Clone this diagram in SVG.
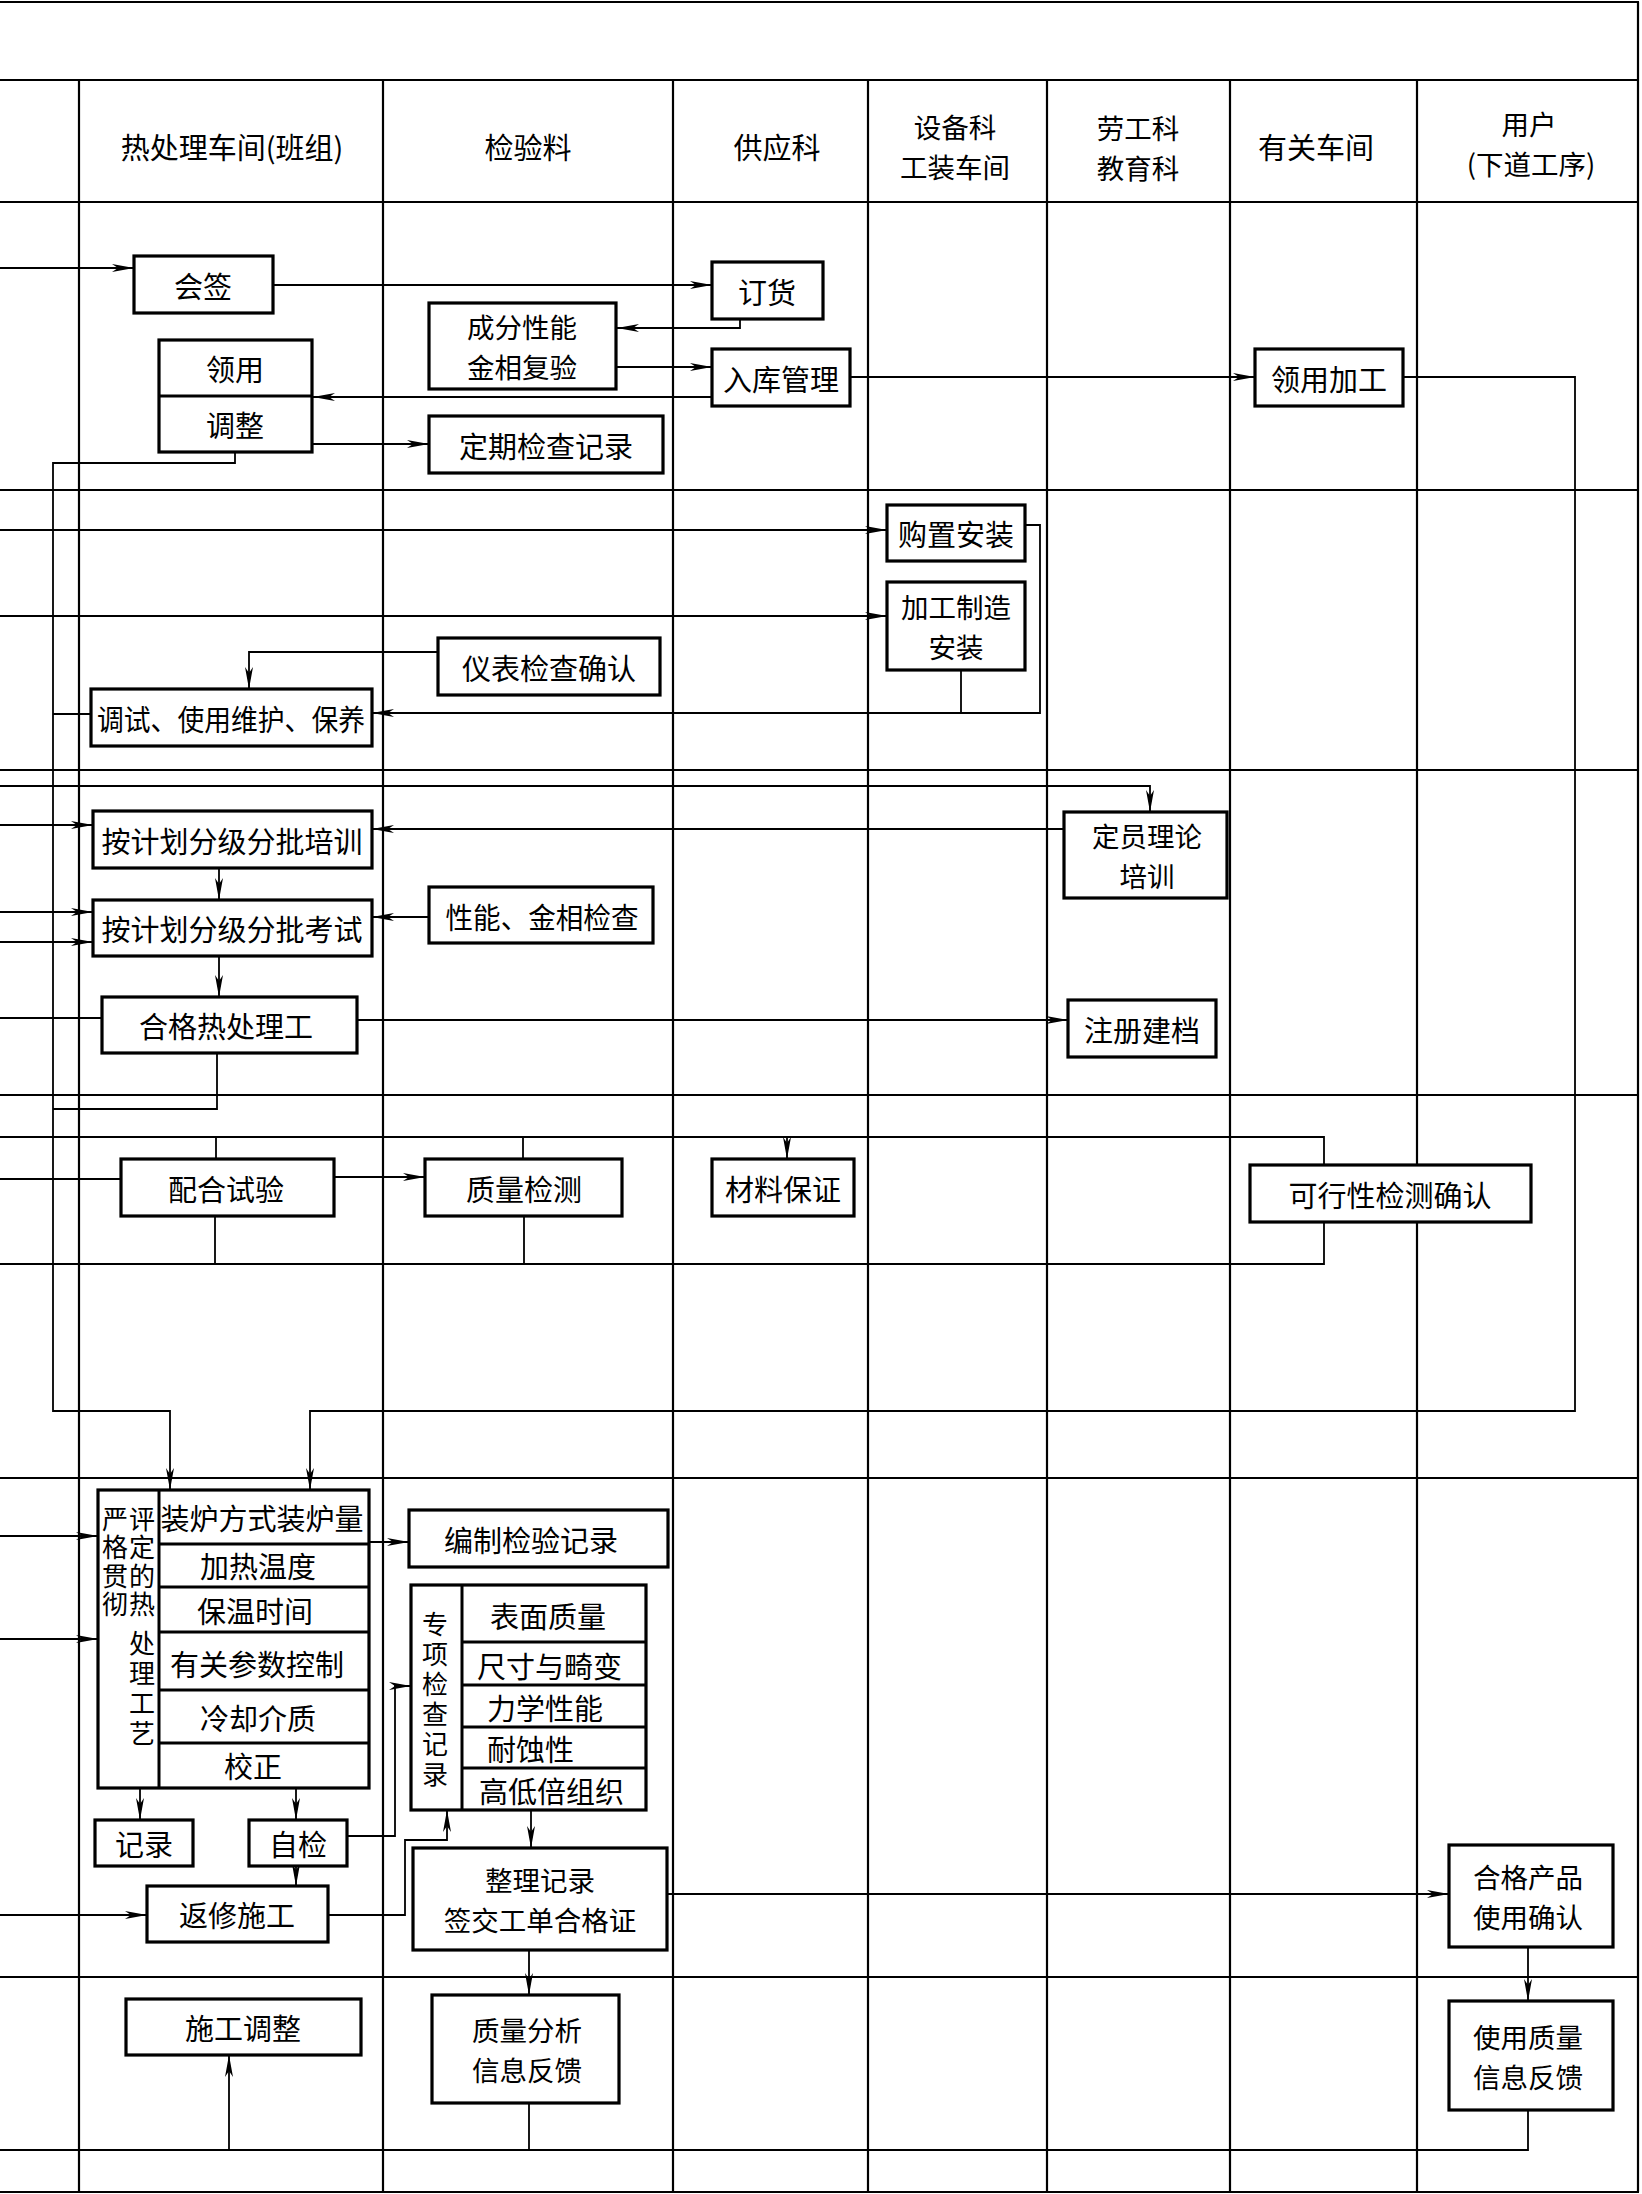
<svg xmlns="http://www.w3.org/2000/svg" width="1642" height="2194" viewBox="0 0 1642 2194">
<defs>
<style>
.grid{stroke:#000;stroke-width:2.2;fill:none}
.box{fill:#fff;stroke:#000;stroke-width:3.2}
.div{stroke:#000;stroke-width:3;fill:none}
.cn{fill:none;stroke:#000;stroke-width:1.8}
.ar{marker-end:url(#ah)}
text{font-family:"Noto Sans CJK SC","Noto Sans",sans-serif;font-size:29px;fill:#000;text-anchor:middle;dominant-baseline:central}
.st{text-anchor:start}
.two{font-size:27.5px}
.vt{font-size:26px;writing-mode:vertical-rl;text-anchor:start;dominant-baseline:auto}
</style>
<marker id="ah" markerUnits="userSpaceOnUse" markerWidth="24" markerHeight="10" refX="22" refY="4" orient="auto" overflow="visible">
<path d="M0,0 L22,4 L0,8 L6,4 z" fill="#000"/>
</marker>
</defs>
<rect x="0" y="0" width="1642" height="2194" fill="#fff"/>

<g id="grid">
<line class="grid" x1="0" y1="2" x2="1639" y2="2"/>
<line class="grid" x1="0" y1="80" x2="1639" y2="80"/>
<line class="grid" x1="0" y1="202" x2="1639" y2="202"/>
<line class="grid" x1="0" y1="490" x2="1639" y2="490"/>
<line class="grid" x1="0" y1="770" x2="1639" y2="770"/>
<line class="grid" x1="0" y1="1095" x2="1639" y2="1095"/>
<line class="grid" x1="0" y1="1478" x2="1639" y2="1478"/>
<line class="grid" x1="0" y1="1977" x2="1639" y2="1977"/>
<line class="grid" x1="0" y1="2192" x2="1639" y2="2192"/>
<line class="grid" x1="79" y1="80" x2="79" y2="2192"/>
<line class="grid" x1="383" y1="80" x2="383" y2="2192"/>
<line class="grid" x1="673" y1="80" x2="673" y2="2192"/>
<line class="grid" x1="868" y1="80" x2="868" y2="2192"/>
<line class="grid" x1="1047" y1="80" x2="1047" y2="2192"/>
<line class="grid" x1="1230" y1="80" x2="1230" y2="2192"/>
<line class="grid" x1="1417" y1="80" x2="1417" y2="2192"/>
<line class="grid" x1="1638" y1="2" x2="1638" y2="2192"/>
</g>

<g id="headers">
<text x="232" y="146">热处理车间(班组)</text>
<text x="528" y="146">检验料</text>
<text x="777" y="146">供应科</text>
<text class="two"><tspan x="955" y="126">设备科</tspan><tspan x="955" y="166">工装车间</tspan></text>
<text class="two"><tspan x="1138" y="127">劳工科</tspan><tspan x="1138" y="167">教育科</tspan></text>
<text x="1316" y="146">有关车间</text>
<text class="two"><tspan x="1529" y="123">用户</tspan><tspan x="1531" y="163">(下道工序)</tspan></text>
</g>

<g id="connectors">
<path class="cn ar" d="M0,268 H134"/>
<path class="cn ar" d="M273,285 H712"/>
<path class="cn ar" d="M740,319 V328 H617"/>
<path class="cn ar" d="M616,367 H712"/>
<path class="cn ar" d="M712,397 H313"/>
<path class="cn ar" d="M850,377 H1255"/>
<path class="cn ar" d="M312,444 H429"/>
<path class="cn ar" d="M235,452 V463 H53 V1411 H170 V1490"/>
<path class="cn ar" d="M1403,377 H1575 V1411 H310 V1490"/>
<path class="cn ar" d="M0,530 H887"/>
<path class="cn ar" d="M0,616 H887"/>
<path class="cn ar" d="M1025,525 H1040 V713 H372"/>
<path class="cn" d="M961,670 V713"/>
<path class="cn ar" d="M438,652 H249 V689"/>
<path class="cn" d="M91,714 H53"/>
<path class="cn ar" d="M0,786 H1150 V812"/>
<path class="cn ar" d="M0,825 H93"/>
<path class="cn ar" d="M1064,829 H372"/>
<path class="cn ar" d="M219,868 V900"/>
<path class="cn ar" d="M0,912 H93"/>
<path class="cn ar" d="M0,942 H93"/>
<path class="cn ar" d="M429,917 H372"/>
<path class="cn ar" d="M219,956 V997"/>
<path class="cn" d="M0,1018 H102"/>
<path class="cn ar" d="M357,1020 H1068"/>
<path class="cn" d="M217,1053 V1109 H53"/>
<path class="cn" d="M0,1137 H1324 V1165"/>
<path class="cn" d="M216,1137 V1159 M523,1137 V1159"/>
<path class="cn ar" d="M787,1137 V1159"/>
<path class="cn" d="M0,1264 H1324 V1222 M215,1216 V1264 M524,1216 V1264"/>
<path class="cn" d="M0,1179 H121"/>
<path class="cn ar" d="M334,1177 H425"/>
<path class="cn ar" d="M0,1536 H98"/>
<path class="cn ar" d="M0,1639 H98"/>
<path class="cn ar" d="M369,1542 H409"/>
<path class="cn ar" d="M140,1788 V1820"/>
<path class="cn ar" d="M296,1788 V1820"/>
<path class="cn ar" d="M347,1836 H395 V1686 H411"/>
<path class="cn ar" d="M296,1866 V1886"/>
<path class="cn ar" d="M0,1915 H147"/>
<path class="cn ar" d="M328,1915 H405 V1840 H447 V1810"/>
<path class="cn ar" d="M531,1810 V1848"/>
<path class="cn ar" d="M667,1894 H1449"/>
<path class="cn ar" d="M529,1950 V1995"/>
<path class="cn ar" d="M1528,1947 V2001"/>
<path class="cn" d="M1528,2110 V2150 H0"/>
<path class="cn ar" d="M229,2150 V2055"/>
<path class="cn" d="M529,2103 V2150"/>
</g>

<g id="n-huiqian"><rect class="box" x="134" y="256" width="139" height="57"/><text x="203" y="285">会签</text></g>
<g id="n-dinghuo"><rect class="box" x="712" y="262" width="111" height="57"/><text x="767" y="291">订货</text></g>
<g id="n-fuyan"><rect class="box" x="429" y="303" width="187" height="86"/><text class="two"><tspan x="522" y="326">成分性能</tspan><tspan x="522" y="366">金相复验</tspan></text></g>
<g id="n-ruku"><rect class="box" x="712" y="349" width="138" height="57"/><text x="781" y="378">入库管理</text></g>
<g id="n-lingyong"><rect class="box" x="159" y="340" width="153" height="112"/><line class="div" x1="159" y1="396" x2="312" y2="396"/><text x="235" y="368">领用</text><text x="235" y="424">调整</text></g>
<g id="n-dingqi"><rect class="box" x="429" y="416" width="234" height="57"/><text x="546" y="445">定期检查记录</text></g>
<g id="n-lingyongjg"><rect class="box" x="1255" y="349" width="148" height="57"/><text x="1329" y="378">领用加工</text></g>

<g id="n-gouzhi"><rect class="box" x="887" y="505" width="138" height="56"/><text x="956" y="533">购置安装</text></g>
<g id="n-jiagong"><rect class="box" x="887" y="582" width="138" height="88"/><text class="two"><tspan x="956" y="606">加工制造</tspan><tspan x="956" y="646">安装</tspan></text></g>
<g id="n-yibiao"><rect class="box" x="438" y="638" width="222" height="57"/><text x="549" y="667">仪表检查确认</text></g>
<g id="n-tiaoshi"><rect class="box" x="91" y="689" width="281" height="57"/><text x="231" y="718" font-size="28" textLength="268" lengthAdjust="spacingAndGlyphs">调试、使用维护、保养</text></g>

<g id="n-peixun"><rect class="box" x="93" y="811" width="279" height="57"/><text x="232" y="840">按计划分级分批培训</text></g>
<g id="n-dingyuan"><rect class="box" x="1064" y="812" width="163" height="86"/><text class="two"><tspan x="1147" y="835">定员理论</tspan><tspan x="1147" y="875">培训</tspan></text></g>
<g id="n-kaoshi"><rect class="box" x="93" y="900" width="279" height="56"/><text x="232" y="928">按计划分级分批考试</text></g>
<g id="n-xingneng"><rect class="box" x="429" y="887" width="224" height="56"/><text x="542" y="916" font-size="28" textLength="193" lengthAdjust="spacingAndGlyphs">性能、金相检查</text></g>
<g id="n-hege"><rect class="box" x="102" y="997" width="255" height="56"/><text x="226" y="1025">合格热处理工</text></g>
<g id="n-zhuce"><rect class="box" x="1068" y="1000" width="148" height="57"/><text x="1142" y="1029">注册建档</text></g>

<g id="n-peihe"><rect class="box" x="121" y="1159" width="213" height="57"/><text x="226" y="1188">配合试验</text></g>
<g id="n-zhiliang"><rect class="box" x="425" y="1159" width="197" height="57"/><text x="524" y="1188">质量检测</text></g>
<g id="n-cailiao"><rect class="box" x="712" y="1159" width="142" height="57"/><text x="783" y="1188">材料保证</text></g>
<g id="n-kexing"><rect class="box" x="1250" y="1165" width="281" height="57"/><text x="1390" y="1194">可行性检测确认</text></g>

<g id="n-gongyi">
<rect class="box" x="98" y="1490" width="271" height="298"/>
<line class="div" x1="159" y1="1490" x2="159" y2="1788"/>
<line class="div" x1="159" y1="1544" x2="369" y2="1544"/>
<line class="div" x1="159" y1="1587" x2="369" y2="1587"/>
<line class="div" x1="159" y1="1632" x2="369" y2="1632"/>
<line class="div" x1="159" y1="1690" x2="369" y2="1690"/>
<line class="div" x1="159" y1="1743" x2="369" y2="1743"/>
<text class="vt" x="115" y="1506" letter-spacing="2.5">严格贯彻</text>
<text class="vt" x="142" y="1506" letter-spacing="2.5">评定的热</text>
<text class="vt" x="142" y="1630" letter-spacing="4">处理工艺</text>
<text x="262" y="1517">装炉方式装炉量</text>
<text x="258" y="1565">加热温度</text>
<text x="255" y="1610">保温时间</text>
<text x="257" y="1663">有关参数控制</text>
<text x="258" y="1717">冷却介质</text>
<text x="253" y="1765">校正</text>
</g>
<g id="n-bianzhi"><rect class="box" x="409" y="1510" width="259" height="57"/><text x="531" y="1539">编制检验记录</text></g>
<g id="n-zhuanxiang">
<rect class="box" x="411" y="1585" width="235" height="225"/>
<line class="div" x1="462" y1="1585" x2="462" y2="1810"/>
<line class="div" x1="462" y1="1642" x2="646" y2="1642"/>
<line class="div" x1="462" y1="1685" x2="646" y2="1685"/>
<line class="div" x1="462" y1="1727" x2="646" y2="1727"/>
<line class="div" x1="462" y1="1768" x2="646" y2="1768"/>
<text class="vt" x="435" y="1611" letter-spacing="4">专项检查记录</text>
<text class="st" x="490" y="1615">表面质量</text>
<text class="st" x="477" y="1665">尺寸与畸变</text>
<text class="st" x="487" y="1707">力学性能</text>
<text class="st" x="487" y="1748">耐蚀性</text>
<text class="st" x="479" y="1790">高低倍组织</text>
</g>
<g id="n-jilu"><rect class="box" x="95" y="1820" width="98" height="46"/><text x="144" y="1843">记录</text></g>
<g id="n-zijian"><rect class="box" x="249" y="1820" width="98" height="46"/><text x="298" y="1843">自检</text></g>
<g id="n-fanxiu"><rect class="box" x="147" y="1886" width="181" height="56"/><text x="237" y="1914">返修施工</text></g>
<g id="n-zhengli"><rect class="box" x="413" y="1848" width="254" height="102"/><text class="two"><tspan x="540" y="1879">整理记录</tspan><tspan x="540" y="1919">签交工单合格证</tspan></text></g>
<g id="n-hegechanpin"><rect class="box" x="1449" y="1845" width="164" height="102"/><text class="two"><tspan x="1528" y="1876">合格产品</tspan><tspan x="1528" y="1916">使用确认</tspan></text></g>

<g id="n-shigong"><rect class="box" x="126" y="1999" width="235" height="56"/><text x="243" y="2027">施工调整</text></g>
<g id="n-fenxi"><rect class="box" x="432" y="1995" width="187" height="108"/><text class="two"><tspan x="527" y="2029">质量分析</tspan><tspan x="527" y="2069">信息反馈</tspan></text></g>
<g id="n-shiyong"><rect class="box" x="1449" y="2001" width="164" height="109"/><text class="two"><tspan x="1528" y="2036">使用质量</tspan><tspan x="1528" y="2076">信息反馈</tspan></text></g>
</svg>
